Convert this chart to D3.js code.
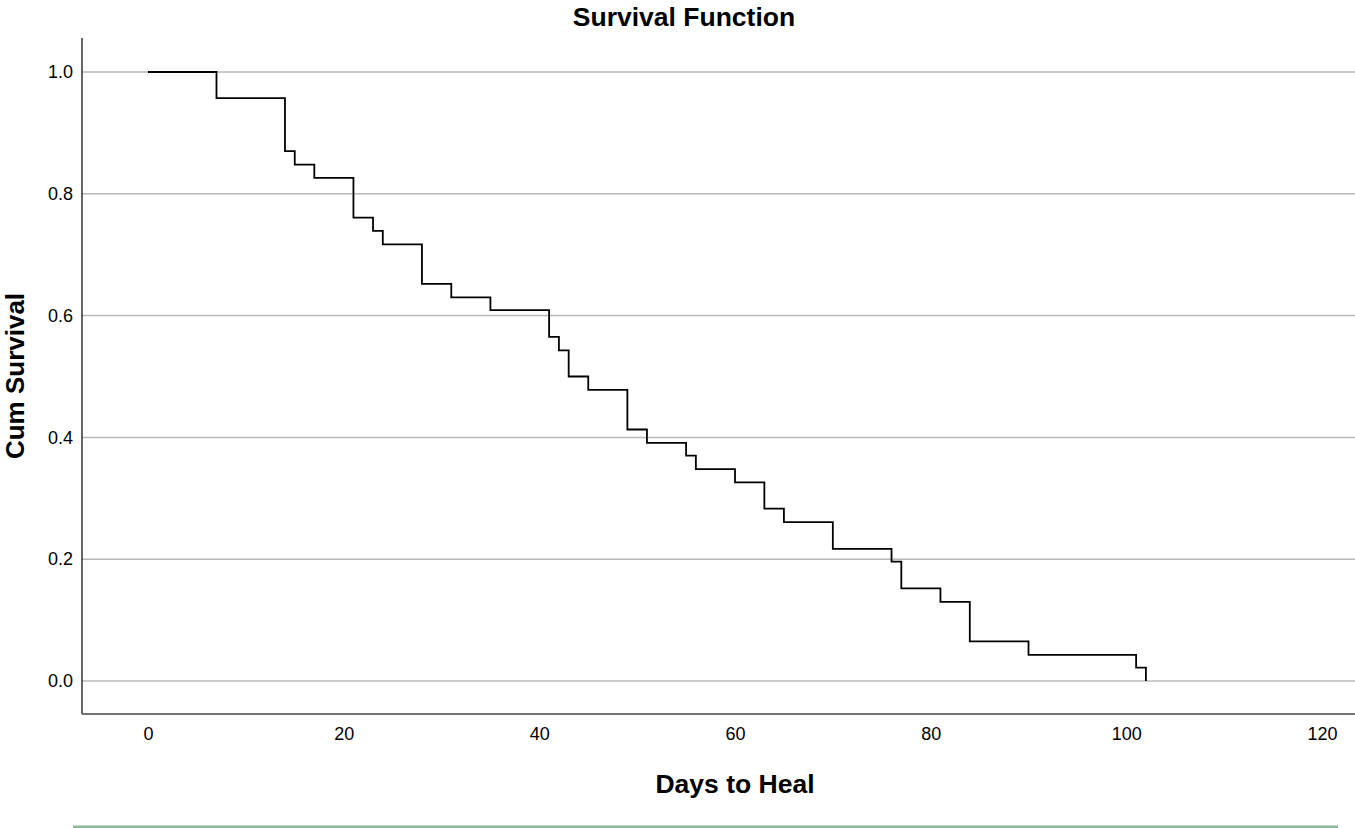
<!DOCTYPE html>
<html>
<head>
<meta charset="utf-8">
<script src="https://cdn.jsdelivr.net/npm/d3@7"></script>
<style>
    body { margin: 0; background: #fff; }
    svg text { font-family: "Liberation Sans", Arial, sans-serif; fill: #000; }
</style>
</head>
<body>
<svg id="main_plot" width="1355" height="828"></svg>
<script>
// Kaplan-Meier steps: event times and cumulative survival after each one
var days = [0, 7, 14, 15, 17, 21, 23, 24, 28, 31, 35, 41, 42, 43, 45, 49, 51,
            55, 56, 60, 63, 65, 70, 76, 77, 81, 84, 90, 101, 102];
var survival = [1.000, 0.957, 0.870, 0.848, 0.826, 0.761, 0.739, 0.717, 0.652,
                0.630, 0.609, 0.565, 0.543, 0.500, 0.478, 0.413, 0.391, 0.370,
                0.348, 0.326, 0.283, 0.261, 0.217, 0.196, 0.152, 0.130, 0.065,
                0.043, 0.022, 0.000];

var xTicks = [0, 20, 40, 60, 80, 100, 120];
var yTicks = [0.0, 0.2, 0.4, 0.6, 0.8, 1.0];

var svg = d3.select('#main_plot');

// plot frame (axis lines)
var fLeft = 82, fRight = 1355, fTop = 38, fBottom = 714;

var x = d3.scaleLinear().domain([0, 120]).range([148, 1322]);
var y = d3.scaleLinear().domain([0, 1]).range([681, 72]);

// gridlines
svg.append('g').selectAll('line').data(yTicks)
    .enter().append('line')
    .attr('x1', fLeft).attr('x2', fRight)
    .attr('y1', function (d) { return y(d); })
    .attr('y2', function (d) { return y(d); })
    .attr('stroke', '#b8b8b8')
    .attr('stroke-width', 1.5);

// y axis
var yAxis = d3.axisLeft(y).tickValues(yTicks).tickFormat(d3.format('.1f')).tickSize(0).tickPadding(9);
var gy = svg.append('g').attr('transform', 'translate(' + fLeft + ',0)').call(yAxis);
gy.select('.domain').remove();
gy.selectAll('text').style('font-size', '18px').style('font-family', '"Liberation Sans", Arial, sans-serif');
svg.append('line')
    .attr('x1', fLeft).attr('x2', fLeft).attr('y1', fTop).attr('y2', fBottom)
    .attr('stroke', '#000').attr('stroke-width', 1.2);

// x axis
var xAxis = d3.axisBottom(x).tickValues(xTicks).tickSize(0).tickPadding(13);
var gx = svg.append('g').attr('transform', 'translate(0,' + fBottom + ')').call(xAxis);
gx.select('.domain').remove();
gx.selectAll('text').style('font-size', '18px').style('font-family', '"Liberation Sans", Arial, sans-serif');
svg.append('line')
    .attr('x1', fLeft).attr('x2', fRight).attr('y1', fBottom).attr('y2', fBottom)
    .attr('stroke', '#444').attr('stroke-width', 1.5);

// survival curve
var pts = days.map(function (d, i) { return [d, survival[i]]; });
var line = d3.line()
    .x(function (d) { return x(d[0]); })
    .y(function (d) { return y(d[1]); })
    .curve(d3.curveStepAfter);
svg.append('path')
    .datum(pts)
    .attr('d', line)
    .attr('fill', 'none')
    .attr('stroke', '#000')
    .attr('stroke-width', 1.8);

// titles
svg.append('text')
    .attr('x', 684).attr('y', 26)
    .attr('text-anchor', 'middle')
    .style('font-size', '26.5px').style('font-weight', 'bold')
    .text('Survival Function');

svg.append('text')
    .attr('x', x(60)).attr('y', 793)
    .attr('text-anchor', 'middle')
    .style('font-size', '26.5px').style('font-weight', 'bold')
    .text('Days to Heal');

svg.append('text')
    .attr('transform', 'translate(24,' + ((fTop + fBottom) / 2) + ') rotate(-90)')
    .attr('text-anchor', 'middle')
    .style('font-size', '26px').style('font-weight', 'bold')
    .text('Cum Survival');

// green rule at the bottom
svg.append('line')
    .attr('x1', 73).attr('x2', 1338).attr('y1', 827).attr('y2', 827)
    .attr('stroke', '#8db89b').attr('stroke-width', 3);
</script>
</body>
</html>
